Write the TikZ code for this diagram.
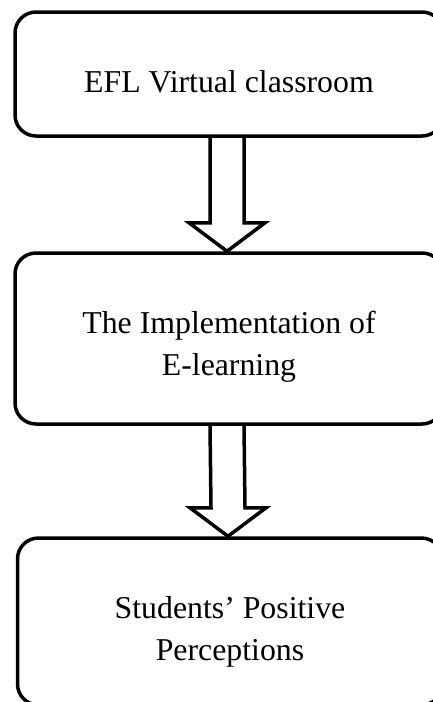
\documentclass[tikz,border=0pt]{standalone}
\usepackage{fontspec}
\setmainfont{Liberation Serif}
\usetikzlibrary{calc}

\tikzset{
  stagebox/.style = {draw, line width = 3.5pt, rounded corners = 21pt, minimum width = 428pt},
  stagetext/.style = {font = \fontsize{31.8}{42}\selectfont, align = center, inner sep = 0pt},
  hollowarrow/.style = {draw, line width = 3.5pt}
}

\begin{document}
\begin{tikzpicture}[x = 1pt, y = -1pt]
        \useasboundingbox (0, 0) rectangle (433, 702);
        \clip (0, 0) rectangle (433, 702);
        \node[stagebox, minimum height = 124pt] (efl) at (229, 74) {};
        \node[stagebox, minimum height = 171pt] (impl) at (229, 338.5) {};
        \node[stagebox, minimum height = 167pt, minimum width = 425pt] (perc) at (230, 621.5) {};
        \node[stagetext] (efltext) at ([yshift = -8pt]efl.center) {EFL Virtual classroom};
        \node[stagetext] (impltext) at ([yshift = -8pt]impl.center) {The Implementation of\\E-learning};
        \node[stagetext] (perctext) at ([yshift = -10.5pt]perc.center) {Students' Positive\\Perceptions};
        \foreach \a/\b in {efl/impl, impl/perc}
            \draw[hollowarrow] ($(\a.south) + (-19, 0)$) -- ($(\b.north) + (-19, -28.5)$)
                -- ($(\b.north) + (-40, -28.5)$) -- ($(\b.north) + (-2, 0)$)
                -- ($(\b.north) + (36, -28.5)$) -- ($(\b.north) + (15, -28.5)$)
                -- ($(\a.south) + (15, 0)$);
\end{tikzpicture}
\end{document}
